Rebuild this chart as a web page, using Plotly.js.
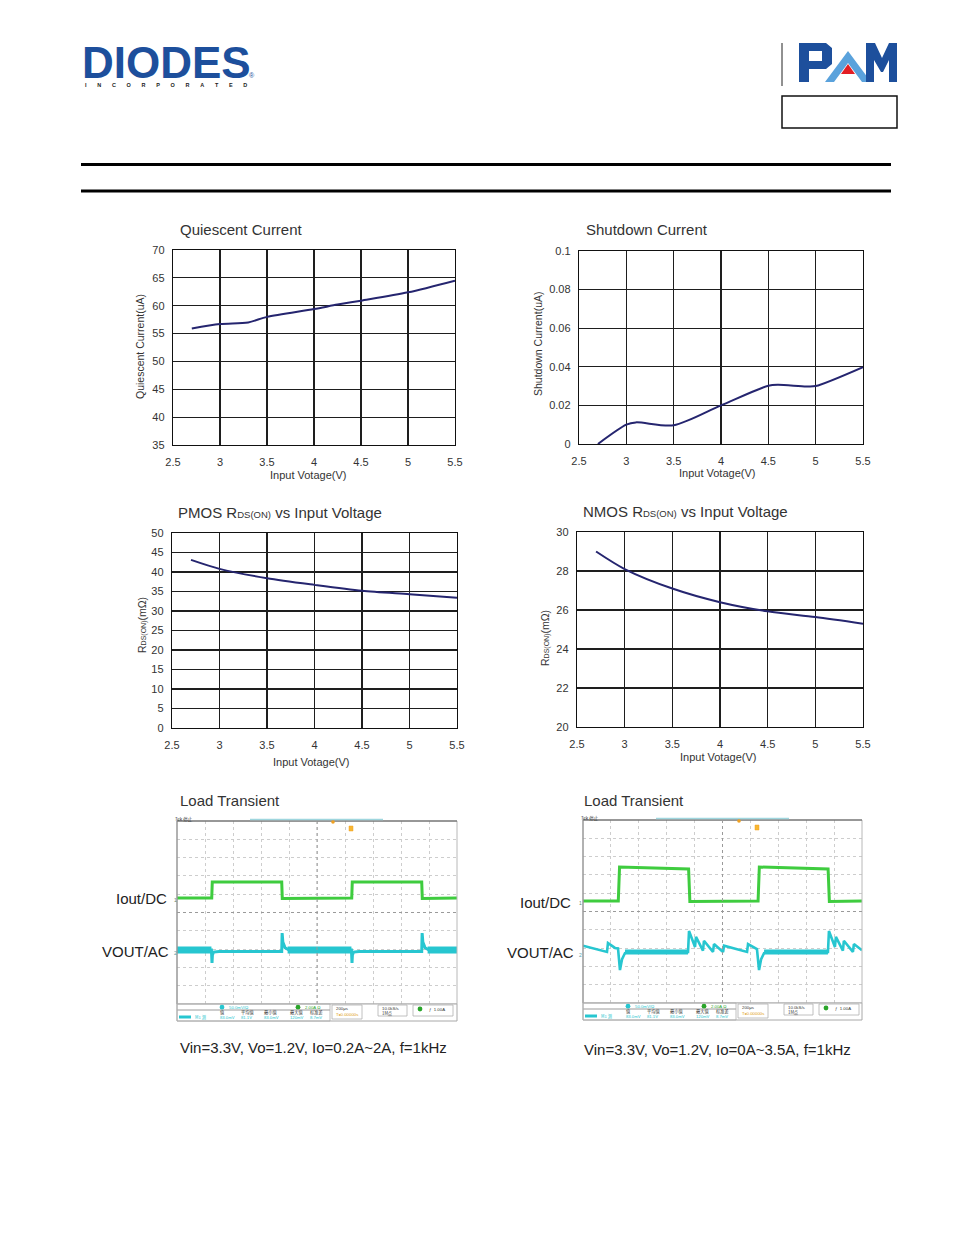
<!DOCTYPE html>
<html><head><meta charset="utf-8">
<script src="https://cdn.plot.ly/plotly-3.0.1.min.js"></script>
<style>html,body{margin:0;padding:0;background:#fff}#page{width:954px;height:1235px}</style>
</head><body><div id="page"></div>
<script>
// ---------------- data ----------------
const inputVoltageTicks = [2.5, 3, 3.5, 4, 4.5, 5, 5.5];

const quiescentVin = [2.7, 3.0, 3.3, 3.5, 4.0, 4.25, 4.5, 5.0, 5.5];
const quiescentCurrent = [55.9, 56.7, 57.0, 58.0, 59.4, 60.2, 60.9, 62.4, 64.5];

const shutdownVin = [2.7, 3.0, 3.1, 3.5, 4.0, 4.5, 4.6, 4.9, 5.0, 5.5];
const shutdownCurrent = [0.0, 0.010, 0.0112, 0.0097, 0.020, 0.0302, 0.0307, 0.0298, 0.030, 0.0398];

const pmosVin = [2.7, 3.0, 3.5, 4.0, 4.5, 5.0, 5.5];
const pmosRdson = [43.1, 40.8, 38.4, 36.7, 35.2, 34.3, 33.4];

const nmosVin = [2.7, 3.0, 3.5, 4.0, 4.5, 5.0, 5.5];
const nmosRdson = [29.0, 28.1, 27.1, 26.4, 25.93, 25.64, 25.3];

// scope traces: time in microseconds (200us/div), amplitude in screen divisions
const leftIoutT   = [0, 248, 252, 748, 752, 1248, 1252, 1748, 1752, 2000];
const leftIoutDiv = [0.79, 0.79, 1.67, 1.67, 0.77, 0.79, 1.67, 1.67, 0.77, 0.79];
const leftVoutT   = [0, 246, 250, 253, 262, 300, 748, 751, 756, 772, 800, 1246, 1250, 1253, 1262, 1300, 1748, 1751, 1756, 1772, 1800, 2000];
const leftVoutDiv = [-2.05, -2.05, -2.76, -2.32, -2.16, -2.13, -2.13, -1.12, -1.61, -1.93, -2.05, -2.05, -2.76, -2.32, -2.16, -2.13, -2.13, -1.12, -1.61, -1.93, -2.05, -2.05];
const leftNoiseT   = [0, 246, null, 790, 1246, null, 1790, 2000];
const leftNoiseDiv = [-2.05, -2.05, null, -2.05, -2.05, null, -2.05, -2.05];

const rightIoutT   = [0, 253, 262, 757, 766, 1255, 1264, 1757, 1766, 2000];
const rightIoutDiv = [0.57, 0.57, 2.43, 2.32, 0.55, 0.57, 2.43, 2.32, 0.55, 0.57];
const rightVoutT   = [0, 172, 179, 229, 251, 265, 280, 301, 337, 753, 760, 803, 810, 860, 867, 932, 939, 1004, 1011, 1176, 1183, 1247, 1262, 1277, 1298, 1334, 1756, 1763, 1806, 1813, 1863, 1870, 1935, 1942, 2000];
const rightVoutDiv = [-1.87, -2.21, -1.72, -1.99, -2.02, -3.20, -2.60, -2.27, -2.21, -2.21, -1.07, -1.94, -1.39, -2.14, -1.60, -2.21, -1.78, -2.21, -1.87, -2.21, -1.78, -2.05, -3.20, -2.60, -2.27, -2.21, -2.21, -1.07, -1.94, -1.39, -2.14, -1.60, -2.21, -1.78, -2.12];
const rightNoiseT   = [301, 753, null, 1298, 1756];
const rightNoiseDiv = [-2.21, -2.21, null, -2.21, -2.21];

// ---------------- layout helpers ----------------
const W = 954, H = 1235;
const FONT = 'Liberation Sans, Arial, sans-serif';
const CJK = 'Noto Sans CJK SC, sans-serif';
const CURVE = '#25256f';
const GREEN = '#3fcc3f';
const CYAN = '#27c6d0';
const BLUE = '#1d4f9c';

function dX(a, b) { return [a / W, b / W]; }
function dY(top, bot) { return [1 - bot / H, 1 - top / H]; }

function chartX(dom, anchor) {
  return {domain: dom, anchor: anchor, range: [2.5, 5.5], tickvals: inputVoltageTicks,
    showgrid: true, gridcolor: '#1e1e1e', gridwidth: 1.2, showline: true, mirror: true,
    linecolor: '#111', linewidth: 1.2, zeroline: false, ticks: 'outside', ticklen: 7,
    tickcolor: 'rgba(0,0,0,0)', tickfont: {family: FONT, size: 11, color: '#333'}, fixedrange: true};
}
function chartY(dom, anchor, range, dtick) {
  return {domain: dom, anchor: anchor, range: range, dtick: dtick, tick0: range[0],
    showgrid: true, gridcolor: '#1e1e1e', gridwidth: 1.2, showline: true, mirror: true,
    linecolor: '#111', linewidth: 1.2, zeroline: false, ticks: 'outside', ticklen: 5,
    tickcolor: 'rgba(0,0,0,0)', tickfont: {family: FONT, size: 11, color: '#333'}, fixedrange: true};
}
function scopeX(dom, anchor) {
  return {domain: dom, anchor: anchor, range: [0, 2000], dtick: 200, tick0: 0, showgrid: true,
    gridcolor: '#cdcdcd', griddash: 'dot', gridwidth: 1, showline: false, zeroline: false,
    showticklabels: false, ticks: '', fixedrange: true};
}
function scopeY(dom, anchor) {
  return {domain: dom, anchor: anchor, range: [-5, 5], dtick: 1, tick0: 0, showgrid: true,
    gridcolor: '#cdcdcd', griddash: 'dot', gridwidth: 1, showline: false, zeroline: false,
    showticklabels: false, ticks: '', fixedrange: true};
}

// ---------------- traces ----------------
function curve(x, y, xa, ya) {
  return {x: x, y: y, xaxis: xa, yaxis: ya, type: 'scatter', mode: 'lines',
    line: {color: CURVE, width: 2, shape: 'spline', smoothing: 0.8}, hoverinfo: 'skip', showlegend: false};
}
function scopeLine(x, y, xa, ya, color, width) {
  return {x: x, y: y, xaxis: xa, yaxis: ya, type: 'scatter', mode: 'lines', connectgaps: false,
    line: {color: color, width: width}, hoverinfo: 'skip', showlegend: false};
}

const data = [
  curve(quiescentVin, quiescentCurrent, 'x', 'y'),
  curve(shutdownVin, shutdownCurrent, 'x2', 'y2'),
  curve(pmosVin, pmosRdson, 'x3', 'y3'),
  curve(nmosVin, nmosRdson, 'x4', 'y4'),
  scopeLine(leftNoiseT, leftNoiseDiv, 'x5', 'y5', CYAN, 7),
  scopeLine(leftVoutT, leftVoutDiv, 'x5', 'y5', CYAN, 3),
  scopeLine(leftIoutT, leftIoutDiv, 'x5', 'y5', GREEN, 3),
  scopeLine(rightNoiseT, rightNoiseDiv, 'x6', 'y6', CYAN, 5),
  scopeLine(rightVoutT, rightVoutDiv, 'x6', 'y6', CYAN, 2.6),
  scopeLine(rightIoutT, rightIoutDiv, 'x6', 'y6', GREEN, 3),
  {x: [], y: [], xaxis: 'x7', yaxis: 'y7', type: 'scatter', mode: 'markers', hoverinfo: 'skip', showlegend: false}
];

// ---------------- page decorations (pixel coords on x7/y7) ----------------
const shapes = [];
const annotations = [];
function pline(x0, y0, x1, y1, color, width, dash) {
  shapes.push({type: 'line', xref: 'x7', yref: 'y7', x0: x0, y0: y0, x1: x1, y1: y1,
    line: {color: color, width: width, dash: dash || 'solid'}});
}
function prect(x0, y0, x1, y1, color, width, fill) {
  shapes.push({type: 'rect', xref: 'x7', yref: 'y7', x0: x0, y0: y0, x1: x1, y1: y1,
    line: {color: color, width: width}, fillcolor: fill || 'rgba(0,0,0,0)'});
}
function pcircle(cx, cy, r, fill) {
  shapes.push({type: 'circle', xref: 'x7', yref: 'y7', x0: cx - r, y0: cy - r, x1: cx + r, y1: cy + r,
    line: {width: 0}, fillcolor: fill});
}
function ppath(path, fill) {
  shapes.push({type: 'path', xref: 'x7', yref: 'y7', path: path, fillcolor: fill, fillrule: 'evenodd', line: {width: 0}});
}
function txt(x, y, text, size, color, xanchor, opts) {
  const a = Object.assign({xref: 'x7', yref: 'y7', x: x, y: y, text: text, showarrow: false,
    xanchor: xanchor || 'left', yanchor: 'middle', font: {family: FONT, size: size, color: color}}, opts || {});
  annotations.push(a);
}

// DIODES logo
txt(166, 62, '<b>DIODES</b>', 44, BLUE, 'center');
pline(84, 61, 249, 61, '#ffffff', 1.6);
const incLetters = 'INCORPORATED';
const NB = '\u00A0';
txt(166, 85, '<b>' + incLetters.split('').join(NB.repeat(7)) + '</b>', 5.5, '#222', 'center');
txt(252, 75, '®', 7, BLUE, 'center');

// PAM logo
pline(782, 43, 782, 86, '#222', 1);
ppath('M799,43 L826,43 L832,48 L832,64 L826,69 L809,69 L809,82 L799,82 Z M809,51 L822,51 L822,61 L809,61 Z', BLUE);
ppath('M848,51 L871,82 L862,82 L848,63 L834,82 L825,82 Z', '#5aa2dc');
ppath('M848,64 L855,74 L841,74 Z', '#e31e24');
ppath('M866,82 L866,43 L875,43 L882,58 L889,43 L897,43 L897,82 L889,82 L889,60 L883,72 L881,72 L874,60 L874,82 Z', BLUE);
prect(782, 96, 897, 128, '#111', 1.5);

// header rules
pline(81, 164.5, 891, 164.5, '#000', 3);
pline(81, 191, 891, 191, '#000', 3);

// chart titles and axis titles
txt(178, 229, 'Quiescent Current', 15, '#333');
txt(584, 229, 'Shutdown Current', 15, '#333');
txt(176, 512, 'PMOS R<span style="font-size:9.5px">DS(ON)</span> vs Input Voltage', 15, '#333');
txt(581, 511, 'NMOS R<span style="font-size:9.5px">DS(ON)</span> vs Input Voltage', 15, '#333');

txt(308, 475, 'Input Votage(V)', 11, '#333', 'center');
txt(717, 473, 'Input Votage(V)', 11, '#333', 'center');
txt(311, 762, 'Input Votage(V)', 11, '#333', 'center');
txt(718, 757, 'Input Votage(V)', 11, '#333', 'center');

txt(140, 347, 'Quiescent Current(uA)', 10.5, '#333', 'center', {textangle: -90});
txt(538, 344, 'Shutdown Current(uA)', 10.5, '#333', 'center', {textangle: -90});
txt(142, 625, 'R<span style="font-size:7px">DS(ON)</span>(mΩ)', 10.5, '#333', 'center', {textangle: -90});
txt(545, 638, 'R<span style="font-size:7px">DS(ON)</span>(mΩ)', 10.5, '#333', 'center', {textangle: -90});

// scope decorations
function scopeDecor(ox, oy, w) {
  const h = 183;
  prect(ox, oy, ox + w, oy + h, '#b8b8b8', 1);
  pline(ox, oy, ox + w, oy, '#555', 1);
  pline(ox, oy, ox, oy + h, '#888', 1);
  pline(ox + w / 2, oy, ox + w / 2, oy + h, '#9a9a9a', 1, 'dot');
  pline(ox, oy + h / 2, ox + w, oy + h / 2, '#9a9a9a', 1, 'dot');
  pline(ox + 73, oy - 1.5, ox + 206, oy - 1.5, '#9fd6de', 1.5);
  pcircle(ox + 156, oy + 1, 1.8, '#f0a020');
  prect(ox + 172, oy + 5, ox + 176, oy + 10, '#f0a020', 0.5, '#f7b733');
  txt(ox - 4, oy - 2, 'Tek 停止', 4.5, '#333', 'left', {font: {family: CJK, size: 4.5, color: '#333'}});
  // status bar
  prect(ox, oy + h, ox + w, oy + h + 17, '#a8a8a8', 1, '#ffffff');
  prect(ox, oy + h, ox + 153, oy + h + 6, '#b0b0b0', 0.8);
  prect(ox, oy + h + 6, ox + 153, oy + h + 17, '#b0b0b0', 0.8);
  prect(ox + 155, oy + h + 1, ox + 185, oy + h + 15, '#b0b0b0', 0.8);
  prect(ox + 201, oy + h + 1, ox + 230, oy + h + 12, '#b0b0b0', 0.8);
  prect(ox + 236, oy + h + 1, ox + 276, oy + h + 12, '#b0b0b0', 0.8);
  pcircle(ox + 45, oy + h + 3.2, 2.4, CYAN);
  pcircle(ox + 121, oy + h + 3.2, 2.4, '#2aa52a');
  pcircle(ox + 243, oy + h + 5, 2.4, '#2aa52a');
  prect(ox + 2, oy + h + 11.5, ox + 14, oy + h + 14.5, CYAN, 0, CYAN);
  txt(ox + 50, oy + h + 3.2, '50.0mV/Ω', 4.3, CYAN);
  txt(ox + 126, oy + h + 3.2, '2.00A Ω', 4.3, '#2aa52a');
  txt(ox + 157, oy + h + 4.5, '200μs', 4.3, '#333');
  txt(ox + 157, oy + h + 10, 'T▸0.00000s', 4.3, '#e09a10');
  txt(ox + 203, oy + h + 4.5, '10.0kS/s', 4.3, '#333');
  txt(ox + 203, oy + h + 9, '1M点', 4.3, '#333', 'left', {font: {family: CJK, size: 4.3, color: '#333'}});
  txt(ox + 250, oy + h + 5, 'ƒ  1.00A', 4.3, '#333');
  const heads = ['值', '平均值', '最小值', '最大值', '标准差'];
  const headX = [41, 62, 85, 111, 131];
  const vals = ['83.0mV', '81.1V', '83.0mV', '120mV', '8.7mV'];
  for (let i = 0; i < heads.length; i++) {
    txt(ox + headX[i], oy + h + 8.5, heads[i], 4.2, '#333', 'left', {font: {family: CJK, size: 4.2, color: '#333'}});
    txt(ox + headX[i], oy + h + 13.5, vals[i], 4.2, CYAN);
  }
  txt(ox + 16, oy + h + 13, 'M1 测', 4.2, CYAN, 'left', {font: {family: CJK, size: 4.2, color: CYAN}});
}
scopeDecor(177, 821, 280);
scopeDecor(583, 820, 279);

txt(178, 800, 'Load Transient', 15, '#333');
txt(582, 800, 'Load Transient', 15, '#333');
txt(169, 898, 'Iout/DC', 15, '#222', 'right');
txt(171, 951, 'VOUT/AC', 15, '#222', 'right');
txt(573, 902, 'Iout/DC', 15, '#222', 'right');
txt(576, 952, 'VOUT/AC', 15, '#222', 'right');
txt(175, 900, '1', 5, '#6a8a6a', 'center');
txt(175, 953, '2', 5, '#5aa0a8', 'center');
txt(580, 903, '1', 5, '#6a8a6a', 'center');
txt(580, 955, '2', 5, '#5aa0a8', 'center');
txt(178, 1047, 'Vin=3.3V, Vo=1.2V, Io=0.2A~2A, f=1kHz', 15, '#222');
txt(582, 1049, 'Vin=3.3V, Vo=1.2V, Io=0A~3.5A, f=1kHz', 15, '#222');

const layout = {
  width: W, height: H, margin: {l: 0, r: 0, t: 0, b: 0, pad: 0},
  paper_bgcolor: '#ffffff', plot_bgcolor: 'rgba(0,0,0,0)', showlegend: false, hovermode: false,
  xaxis: chartX(dX(173, 455), 'y'),   yaxis: chartY(dY(250, 445), 'x', [35, 70], 5),
  xaxis2: chartX(dX(579, 863), 'y2'), yaxis2: chartY(dY(251, 444), 'x2', [0, 0.1], 0.02),
  xaxis3: chartX(dX(172, 457), 'y3'), yaxis3: chartY(dY(533, 728), 'x3', [0, 50], 5),
  xaxis4: chartX(dX(577, 863), 'y4'), yaxis4: chartY(dY(532, 727), 'x4', [20, 30], 2),
  xaxis5: scopeX(dX(177, 457), 'y5'), yaxis5: scopeY(dY(821, 1004), 'x5'),
  xaxis6: scopeX(dX(583, 862), 'y6'), yaxis6: scopeY(dY(820, 1003), 'x6'),
  xaxis7: {domain: [0, 1], anchor: 'y7', range: [0, W], visible: false, fixedrange: true},
  yaxis7: {domain: [0, 1], anchor: 'x7', range: [H, 0], visible: false, fixedrange: true},
  shapes: shapes, annotations: annotations
};

Plotly.newPlot('page', data, layout, {staticPlot: true, displayModeBar: false});
</script></body></html>
